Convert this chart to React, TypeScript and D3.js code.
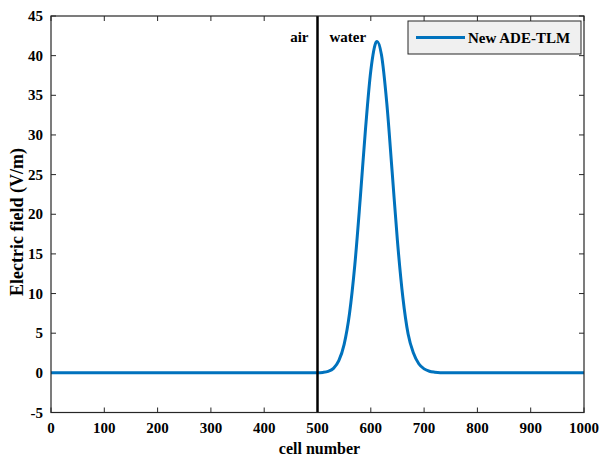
import React from "react";
import * as d3 from "d3";

const cells: number[] = [0, 100, 200, 300, 400, 500, 510, 520, 530, 540, 550, 560, 570, 580, 590, 600, 610, 612, 620, 630, 640, 650, 660, 670, 680, 690, 700, 710, 720, 730, 800, 900, 1000];
const field: number[] = [0, 0, 0, 0, 0, 0, 0.05, 0.19, 0.57, 1.53, 3.6, 7.45, 13.6, 21.8, 30.7, 38.1, 41.7, 41.8, 40.1, 34.0, 25.4, 16.6, 9.6, 4.9, 2.5, 1.15, 0.5, 0.2, 0.08, 0.02, 0, 0, 0];
const xTicks: number[] = [0, 100, 200, 300, 400, 500, 600, 700, 800, 900, 1000];
const yTicks: number[] = [-5, 0, 5, 10, 15, 20, 25, 30, 35, 40, 45];
const interfaceCell = 500;
const seriesName = "New ADE-TLM";

const W = 601, H = 458;
const L = 51, R = 584, T = 16, B = 412.5;
const FONT = "'Liberation Serif', 'Times New Roman', serif";
const AX = "#262626";
const BLUE = "#0072BD";

export default function App() {
  const x = d3.scaleLinear().domain([0, 1000]).range([L, R]);
  const y = d3.scaleLinear().domain([-5, 45]).range([B, T]);
  const pts = cells.map((c, i) => [c, field[i]] as [number, number]);
  const line = d3.line<[number, number]>().x(d => x(d[0])).y(d => y(d[1])).curve(d3.curveMonotoneX);
  const tk = 5;
  return (
    <svg width={W} height={H} style={{ position: "absolute", left: 0, top: 0, background: "#fff" }} fontFamily={FONT}>
      <rect x={0} y={0} width={W} height={H} fill="#fff" />
      {xTicks.map(t => (
        <g key={"x" + t}>
          <line x1={x(t)} x2={x(t)} y1={B} y2={B - tk} stroke={AX} strokeWidth={1} />
          <line x1={x(t)} x2={x(t)} y1={T} y2={T + tk} stroke={AX} strokeWidth={1} />
          <text x={x(t)} y={433} textAnchor="middle" fontSize={15} fontWeight="bold" fill="#000">{t}</text>
        </g>
      ))}
      {yTicks.map(t => (
        <g key={"y" + t}>
          <line x1={L} x2={L + tk} y1={y(t)} y2={y(t)} stroke={AX} strokeWidth={1} />
          <line x1={R} x2={R - tk} y1={y(t)} y2={y(t)} stroke={AX} strokeWidth={1} />
          <text x={43} y={y(t) + 5} textAnchor="end" fontSize={15} fontWeight="bold" fill="#000">{t}</text>
        </g>
      ))}
      <path d={line(pts) || ""} fill="none" stroke={BLUE} strokeWidth={3} strokeLinejoin="round" />
      <line x1={x(interfaceCell)} x2={x(interfaceCell)} y1={T} y2={B} stroke="#000" strokeWidth={2.5} />
      <text x={x(interfaceCell) - 9} y={42} textAnchor="end" fontSize={15} fontWeight="bold" fill="#000">air</text>
      <text x={x(interfaceCell) + 12} y={42} textAnchor="start" fontSize={15} fontWeight="bold" fill="#000">water</text>
      <rect x={L} y={T} width={R - L} height={B - T} fill="none" stroke={AX} strokeWidth={1.2} />
      <rect x={408} y={21} width={173} height={33} fill="#f0f0f0" stroke={AX} strokeWidth={1} />
      <line x1={416} x2={465} y1={37.5} y2={37.5} stroke={BLUE} strokeWidth={3} />
      <text x={468} y={43} fontSize={15} fontWeight="bold" fill="#000">{seriesName}</text>
      <text x={(L + R) / 2 + 2} y={454} textAnchor="middle" fontSize={16} fontWeight="bold" fill="#000">cell number</text>
      <text transform={`translate(23, 222) rotate(-90)`} textAnchor="middle" fontSize={18} fontWeight="bold" fill="#000">Electric field (V/m)</text>
    </svg>
  );
}
